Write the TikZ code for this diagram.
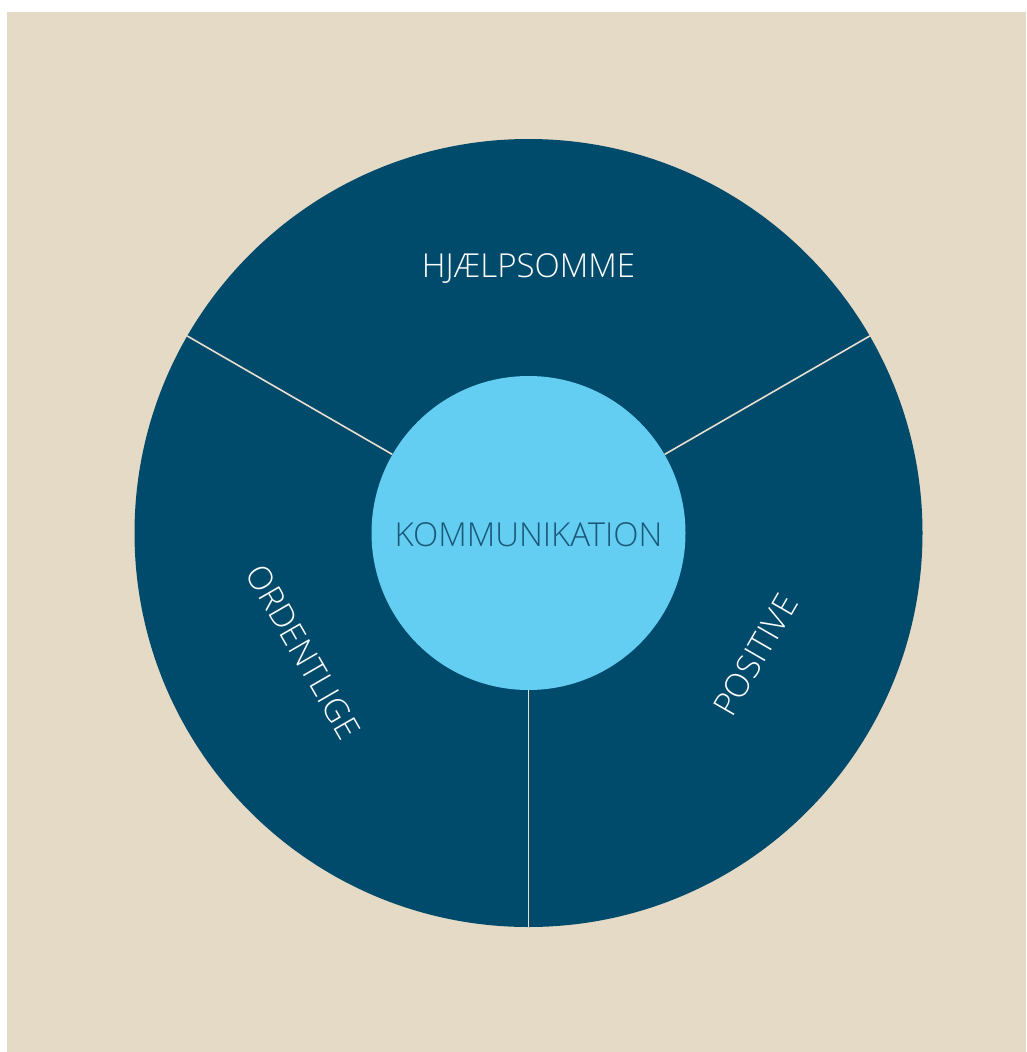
\documentclass[tikz,border=0pt]{standalone}
\usepackage{fontspec}
\usetikzlibrary{calc}
\setmainfont{Open Sans}[UprightFont=* Light]
\definecolor{beige}{HTML}{E5DAC6}
\definecolor{darkblue}{HTML}{004A6B}
\definecolor{lightblue}{HTML}{64CDF2}
\definecolor{centertext}{HTML}{1A5878}
\definecolor{divider}{HTML}{E8DFCF}
\begin{document}
\begin{tikzpicture}[x=1pt,y=-1pt,
  sector/.style={text=white,font=\fontsize{33}{33}\selectfont,inner sep=0pt},
  divline/.style={draw=divider,line width=1.6pt}]
\useasboundingbox (0,0) rectangle (1026,1052);
\fill[white] (0,0) rectangle (1026,1052);
\fill[beige] (7,12) rectangle (1026,1052);
\coordinate (c) at (528.5,533);
\node[circle,fill=darkblue,minimum size=788pt,inner sep=0pt] (outer) at (c) {};
\node[circle,fill=lightblue,minimum size=314pt,inner sep=0pt] (inner) at (c) {};
\draw[divline] (inner.150) -- (outer.150);
\draw[divline] (inner.30) -- (outer.30);
\draw[divline] (inner.270) -- (outer.270);
\node[text=centertext,font=\fontsize{33}{33}\selectfont,inner sep=0pt] (k) at ($(c)+(0,2)$) {KOMMUNIKATION};
\node[sector] (h) at ($(c)+(0,-264)$) {HJÆLPSOMME};
\node[sector,rotate=-60] (o) at ($(c)+(-225,119)$) {ORDENTLIGE};
\node[sector,rotate=60] (p) at ($(c)+(227,122)$) {POSITIVE};
\end{tikzpicture}
\end{document}
